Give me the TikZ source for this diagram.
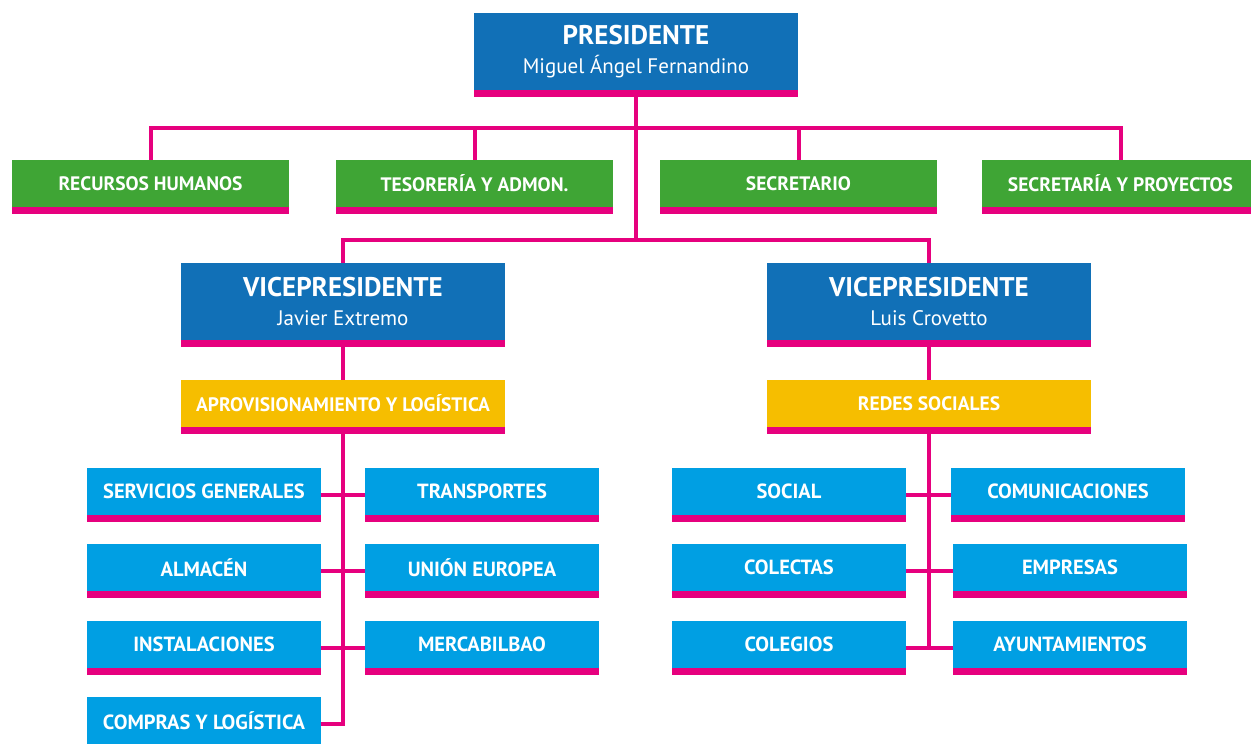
\documentclass[tikz,border=0pt]{standalone}
\usepackage{fontspec}
\setmainfont{PT Sans}
\usetikzlibrary{backgrounds}

\definecolor{azul}{HTML}{1170B7}
\definecolor{verde}{HTML}{3FA535}
\definecolor{amarillo}{HTML}{F6BE00}
\definecolor{celeste}{HTML}{009FE3}
\definecolor{rosa}{HTML}{E6007E}

\begin{document}
\begin{tikzpicture}[x=1pt,y=-1pt,
    caja/.style={fill=celeste,text=white,inner sep=0pt,
      font=\bfseries\fontsize{20.5}{22}\selectfont,
      minimum width=234pt,minimum height=47pt},
    area/.style={caja,fill=verde,minimum width=277pt,
      font=\bfseries\fontsize{19.5}{22}\selectfont},
    depto/.style={caja,fill=amarillo,minimum width=324pt,
      font=\bfseries\fontsize{19.5}{22}\selectfont},
    jefe/.style={caja,fill=azul,minimum width=324pt,minimum
      height=77pt,align=center,font=\bfseries\fontsize{21}{29}\selectfont}]

  \tikzset{link/.style={draw=rosa,line width=4pt}}
  \useasboundingbox (0,0) rectangle (1251,744);

  % presidencia y areas
  \node[jefe] (pres) at (636,51.5) {{\fontsize{27}{29}\selectfont
      PRESIDENTE}\\{\mdseries\fontsize{21}{29}\selectfont Miguel Ángel
      Fernandino}};
  \node[area] (rrhh) at (150.5,183.5) {RECURSOS HUMANOS};
  \node[area] (tes) at (474.5,183.5) {TESORERÍA Y ADMON.};
  \node[area] (secr) at (798.5,183.5) {SECRETARIO};
  \node[area] (secpro) at (1120.5,183.5) {SECRETARÍA Y PROYECTOS};

  % vicepresidencias
  \node[jefe] (vpl) at (343,301.5) {{\fontsize{27}{29}\selectfont
      VICEPRESIDENTE}\\{\mdseries\fontsize{21}{29}\selectfont Javier
      Extremo}};
  \node[jefe] (vpr) at (929,301.5) {{\fontsize{27}{29}\selectfont
      VICEPRESIDENTE}\\{\mdseries\fontsize{21}{29}\selectfont Luis
      Crovetto}};
  \node[depto] (apro) at (343,403.5) {APROVISIONAMIENTO Y LOGÍSTICA};
  \node[depto] (redes) at (929,403.5) {REDES SOCIALES};

  % lado izquierdo
  \node[caja] (servg) at (204,491.5) {SERVICIOS GENERALES};
  \node[caja] (almac) at (204,567.5) {ALMACÉN};
  \node[caja] (instal) at (204,644.5) {INSTALACIONES};
  \node[caja] (compras) at (204,720.5) {COMPRAS Y LOGÍSTICA};
  \node[caja] (transp) at (482,491.5) {TRANSPORTES};
  \node[caja] (ue) at (482,567.5) {UNIÓN EUROPEA};
  \node[caja] (merca) at (482,644.5) {MERCABILBAO};

  % lado derecho
  \node[caja] (social) at (789,491.5) {SOCIAL};
  \node[caja] (colec) at (789,567.5) {COLECTAS};
  \node[caja] (coleg) at (789,644.5) {COLEGIOS};
  \node[caja] (comun) at (1068,491.5) {COMUNICACIONES};
  \node[caja] (empr) at (1070,567.5) {EMPRESAS};
  \node[caja] (ayunt) at (1070,644.5) {AYUNTAMIENTOS};

  % barras rosas
  \foreach \n in {pres,rrhh,tes,secr,secpro,vpl,vpr,apro,redes,
    servg,almac,instal,compras,transp,ue,merca,
    social,colec,coleg,comun,empr,ayunt}
  \fill[rosa] (\n.south west) rectangle ([yshift=-7pt]\n.south east);

  % conexiones
  \begin{scope}[on background layer]
    \coordinate (hub) at (636,128);
    \coordinate (vhub) at (636,240);
    \coordinate (fin) at ([yshift=-3.5pt]coleg.east);
    \draw[link] (pres) -- (vhub);
    \draw[link] (rrhh) |- (hub) -| (secpro);
    \draw[link] (tes) |- (hub);
    \draw[link] (secr) |- (hub);
    \draw[link] (vpl) |- (vhub) -| (vpr);
    \draw[link] (vpl) -- (apro);
    \draw[link] (vpr) -- (redes);
    \draw[link] (apro) |- ([yshift=-3.5pt]compras.east);
    \draw[link] (redes) -- (redes |- fin);
    \draw[link] ([yshift=-3.5pt]servg.east) -- ([yshift=-3.5pt]transp.west);
    \draw[link] ([yshift=-3.5pt]almac.east) -- ([yshift=-3.5pt]ue.west);
    \draw[link] ([yshift=-3.5pt]instal.east) -- ([yshift=-3.5pt]merca.west);
    \draw[link] ([yshift=-3.5pt]social.east) -- ([yshift=-3.5pt]comun.west);
    \draw[link] ([yshift=-3.5pt]colec.east) -- ([yshift=-3.5pt]empr.west);
    \draw[link] ([yshift=-3.5pt]coleg.east) -- ([yshift=-3.5pt]ayunt.west);
  \end{scope}
\end{tikzpicture}
\end{document}
